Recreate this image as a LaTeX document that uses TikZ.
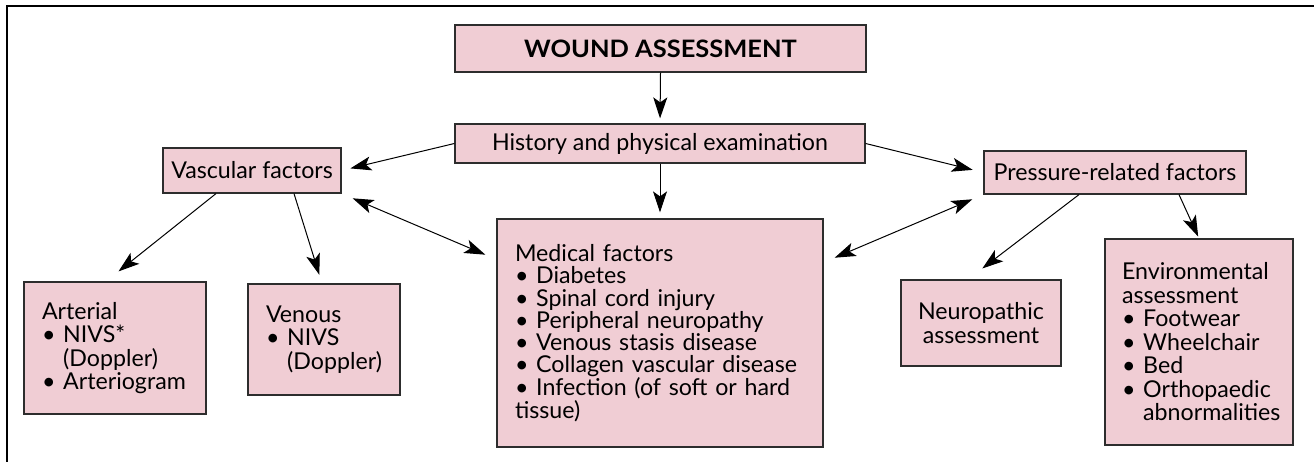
\documentclass[tikz,border=0pt]{standalone}
\usepackage{fontspec}
\setmainfont{Lato}
\newfontfamily\boldwide[FakeStretch=1.06]{Lato}
\usetikzlibrary{arrows.meta,calc}
\definecolor{boxpink}{RGB}{240,205,212}
\definecolor{boxline}{RGB}{45,45,45}
\newcommand\mytsz{\fontsize{23.2}{23.5}\selectfont}
\newcommand\mymsz{\fontsize{23.2}{22.2}\selectfont}
\newcommand\bul{\textbullet\ }
\newcommand\nobul{\phantom{\textbullet\ }}
\begin{document}
\begin{tikzpicture}[x=1pt,y=-1pt,
  box/.style={draw=boxline, line width=1.2pt, fill=boxpink, inner ysep=0pt, font=\mytsz},
  lbox/.style={box, align=left, inner xsep=18pt},
  arr/.style={-{Stealth[length=21pt,width=14pt,inset=5pt]}, line width=1pt},
  dbl/.style={{Stealth[length=21pt,width=14pt,inset=5pt]}-{Stealth[length=21pt,width=14pt,inset=5pt]}, line width=1pt}
]
\useasboundingbox (0,0) rectangle (1314,462);
\draw[line width=1.3pt] (1314,6) -- (7,6) -- (7,462);

\node[box, minimum width=411pt, minimum height=47pt, font=\fontsize{24}{24}\boldwide\bfseries] (wound) at (660.5,48.5) {WOUND ASSESSMENT};
\node[box, minimum width=410pt, minimum height=39pt] (hist) at (660,143.5) {History and physical examination};
\node[box, minimum width=178pt, minimum height=45pt] (vasc) at (252,170.5) {Vascular factors};
\node[box, minimum width=262pt, minimum height=43pt] (press) at (1115,172.5) {Pressure-related factors};

\node[lbox, text width=290pt, minimum height=228pt, font=\mymsz] (med) at (660,333) {Medical factors\\
\bul Diabetes\\
\bul Spinal cord injury\\
\bul Peripheral neuropathy\\
\bul Venous stasis disease\\
\bul Collagen vascular disease\\
\bul Infection (of soft or hard\\
tissue)};

\node[lbox, text width=146pt, minimum height=132pt] (art) at (115,348) {Arterial\\
\bul NIVS*\\
\nobul(Doppler)\\
\bul Arteriogram};

\node[lbox, text width=116pt, minimum height=111pt] (ven) at (324,339.5) {Venous\\
\bul NIVS\\
\nobul(Doppler)};

\node[box, align=center, minimum width=160pt, minimum height=86pt] (neuro) at (981,323) {Neuropathic\\assessment};

\node[lbox, inner xsep=17pt, text width=154pt, minimum height=206pt] (env) at (1199,342) {Environmental\\
assessment\\
\bul Footwear\\
\bul Wheelchair\\
\bul Bed\\
\bul Orthopaedic\\
\nobul abnormalities};

\draw[arr, shorten >=5pt] (wound.south) -- (hist.north);
\draw[arr, shorten >=6pt] (hist.south) -- (med.north);
\draw[arr, shorten >=9pt] (hist.west) -- (vasc.east);
\draw[arr, shorten >=11pt] (hist.east) -- (press.west);
\draw[dbl, shorten <=12pt, shorten >=12pt] (vasc.south east) -- ([yshift=-41pt]med.north west);
\draw[dbl, shorten <=12pt, shorten >=12pt] (press.south west) -- ([yshift=-44pt]med.north east);
\draw[arr, shorten >=16pt] ([xshift=-36pt]vasc.south) -- ([xshift=-9pt]art.north);
\draw[arr, shorten >=9pt] ([xshift=42pt]vasc.south) -- ([xshift=-2pt]ven.north);
\draw[arr, shorten >=18pt] ([xshift=-36pt]press.south) -- ([xshift=-13pt]neuro.north);
\draw[arr, shorten >=2pt] ([xshift=64pt]press.south) -- (env.north);
\end{tikzpicture}
\end{document}
